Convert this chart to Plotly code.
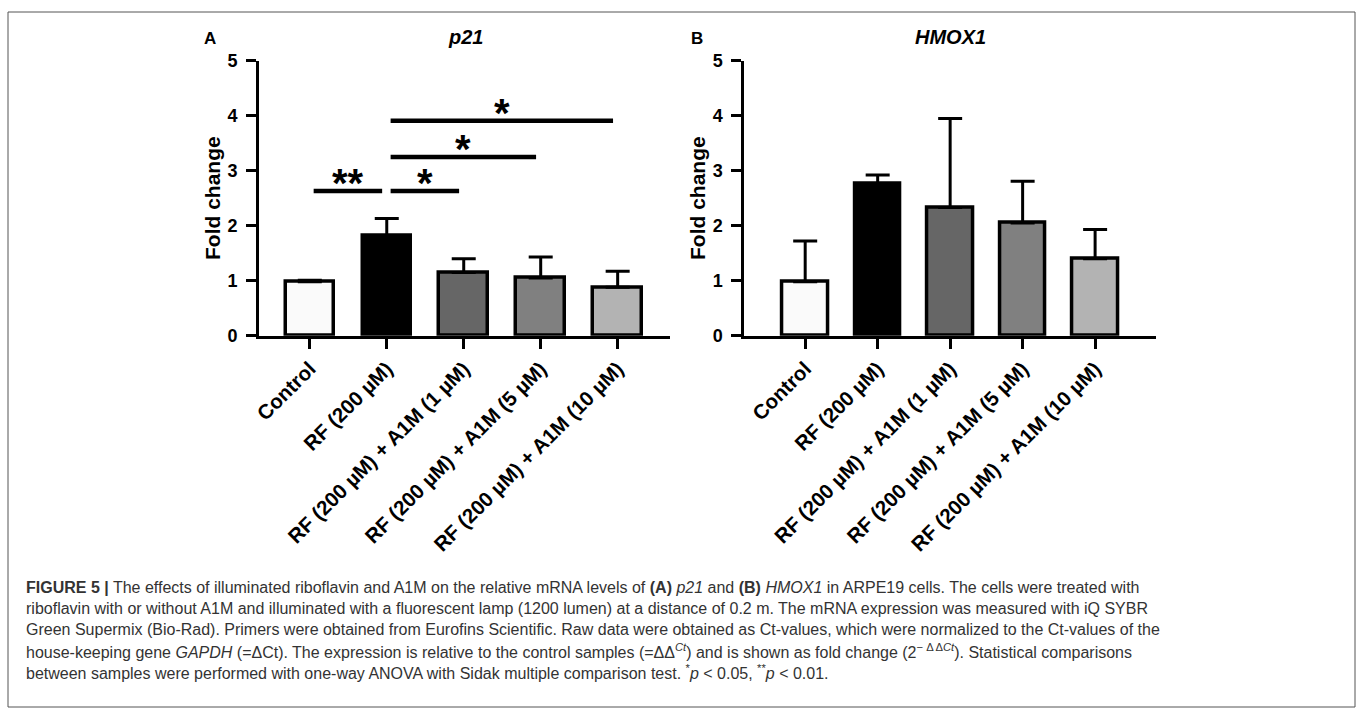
import plotly.graph_objects as go

# ---------------- data ----------------
categories = ["Control", "RF (200 µM)", "RF (200 µM) + A1M (1 µM)",
              "RF (200 µM) + A1M (5 µM)", "RF (200 µM) + A1M (10 µM)"]
p21_mean = [0.98, 1.82, 1.15, 1.05, 0.88]
p21_sem = [0.03, 0.31, 0.25, 0.38, 0.29]
hmox1_mean = [0.98, 2.76, 2.33, 2.05, 1.40]
hmox1_sem = [0.74, 0.16, 1.62, 0.76, 0.53]
# significance comparisons for p21: (group a, group b, bracket height, label)
p21_comparisons = [(0, 1, 2.63, "**"), (1, 2, 2.63, "*"),
                   (1, 3, 3.25, "*"), (1, 4, 3.91, "*")]
y_ticks = [0, 1, 2, 3, 4, 5]
panel_titles = ["p21", "HMOX1"]
panel_letters = ["A", "B"]

# ---------------- style ----------------
W, H = 1357, 709
FONT = "Liberation Sans, Arial, sans-serif"
bar_colors = ["#fafafa", "#000000", "#666666", "#808080", "#b3b3b3"]
xpos = list(range(len(categories)))

def px_x(p):
    return p / W

def px_y(p):
    return 1 - p / H

fig = go.Figure()

panels = [
    dict(mean=p21_mean, sem=p21_sem, xa="x", ya="y",
         dom=(259, 670), rng=(-0.66, 4.68)),
    dict(mean=hmox1_mean, sem=hmox1_sem, xa="x2", ya="y2",
         dom=(744.3, 1156), rng=(-0.84, 4.84)),
]

for p in panels:
    fig.add_trace(go.Bar(
        x=xpos, y=p["mean"], xaxis=p["xa"], yaxis=p["ya"],
        width=0.63,
        marker=dict(color=bar_colors, line=dict(color="black", width=3.5)),
        error_y=dict(type="data", symmetric=False, array=p["sem"],
                     arrayminus=[0] * len(p["sem"]),
                     color="black", thickness=3, width=12),
        showlegend=False, hoverinfo="skip",
    ))

# significance brackets (panel A)
ann = []
for a, b, h, lab in p21_comparisons:
    x0, x1 = a + 0.05, b - 0.06
    fig.add_trace(go.Scatter(
        x=[x0, x1], y=[h, h], xaxis="x", yaxis="y", mode="lines",
        line=dict(color="black", width=4.5), showlegend=False, hoverinfo="skip"))
    ann.append(dict(x=(x0 + x1) / 2, y=h, xref="x", yref="y", text=lab,
                    showarrow=False, xanchor="center", yanchor="middle", yshift=8,
                    font=dict(family=FONT, size=40, color="black", weight="bold")))

ydom = (px_y(335.7), px_y(60.7))
axis_common = dict(showline=True, linewidth=3, linecolor="black",
                   ticks="outside", ticklen=10, tickwidth=3, tickcolor="black",
                   showgrid=False, zeroline=False, automargin=False)
layout_axes = {}
for i, p in enumerate(panels):
    sfx = "" if i == 0 else str(i + 1)
    layout_axes["xaxis" + sfx] = dict(
        domain=[px_x(p["dom"][0]), px_x(p["dom"][1])], range=list(p["rng"]),
        anchor="y" + sfx, tickvals=xpos, ticktext=categories, tickangle=-45,
        tickfont=dict(family=FONT, size=20.5, color="black", weight="bold"),
        **axis_common)
    layout_axes["yaxis" + sfx] = dict(
        domain=list(ydom), range=[0, 5], anchor="x" + sfx, tickvals=y_ticks,
        ticklabelstandoff=5,
        tickfont=dict(family=FONT, size=18, color="black", weight="bold"),
        **axis_common)

# panel titles, letters, y-axis titles
title_x = [465, 950]
letter_x = [210, 697]
ylab_x = [212, 697]
for i in range(2):
    ann.append(dict(x=px_x(title_x[i]), y=px_y(37), xref="paper", yref="paper",
                    xanchor="center", yanchor="middle",
                    text="<b><i>%s</i></b>" % panel_titles[i], showarrow=False,
                    font=dict(family=FONT, size=20, color="black")))
    ann.append(dict(x=px_x(letter_x[i]), y=px_y(38), xref="paper", yref="paper",
                    xanchor="center", yanchor="middle",
                    text="<b>%s</b>" % panel_letters[i], showarrow=False,
                    font=dict(family=FONT, size=17, color="black")))
    ann.append(dict(x=px_x(ylab_x[i]), y=px_y(198), xref="paper", yref="paper",
                    xanchor="center", yanchor="middle",
                    text="<b>Fold change</b>", textangle=-90, showarrow=False,
                    font=dict(family=FONT, size=21, color="black")))

# caption
caption_lines = [
    "<b>FIGURE 5 |</b> The effects of illuminated riboflavin and A1M on the relative mRNA levels of <b>(A)</b> <i>p21</i> and <b>(B)</b> <i>HMOX1</i> in ARPE19 cells. The cells were treated with",
    "riboflavin with or without A1M and illuminated with a fluorescent lamp (1200 lumen) at a distance of 0.2 m. The mRNA expression was measured with iQ SYBR",
    "Green Supermix (Bio-Rad). Primers were obtained from Eurofins Scientific. Raw data were obtained as Ct-values, which were normalized to the Ct-values of the",
    "house-keeping gene <i>GAPDH</i> (=ΔCt). The expression is relative to the control samples (=ΔΔ<sup><i>Ct</i></sup>) and is shown as fold change (2<sup>− Δ Δ<i>Ct</i></sup>). Statistical comparisons",
    "between samples were performed with one-way ANOVA with Sidak multiple comparison test. <sup>*</sup><i>p</i> &lt; 0.05, <sup>**</sup><i>p</i> &lt; 0.01.",
]
cap_y = [587, 608, 629, 651, 672]
for t, yy in zip(caption_lines, cap_y):
    ann.append(dict(x=px_x(24), y=px_y(yy), xref="paper", yref="paper",
                    xanchor="left", yanchor="middle", text=t, showarrow=False,
                    align="left", font=dict(family=FONT, size=16, color="#333333")))

shapes = [dict(type="rect", xref="paper", yref="paper",
               x0=px_x(8), x1=px_x(1355), y0=px_y(707), y1=px_y(12),
               line=dict(color="#555555", width=1))]

fig.update_layout(
    width=W, height=H, autosize=False,
    margin=dict(l=0, r=0, t=0, b=0, pad=0, autoexpand=False),
    paper_bgcolor="white", plot_bgcolor="white",
    bargap=0, annotations=ann, shapes=shapes,
    font=dict(family=FONT, color="black"),
    **layout_axes,
)

# pin the graph to the top-left corner of the window (no page margin)
pin = ("var gd=document.getElementById('{plot_id}');"
       "document.documentElement.style.margin='0';"
       "document.body.style.margin='0';document.body.style.overflow='hidden';"
       "gd.style.position='fixed';gd.style.top='0px';gd.style.left='0px';")
fig.write_html("out.html", post_script=pin, config={"displayModeBar": False})
